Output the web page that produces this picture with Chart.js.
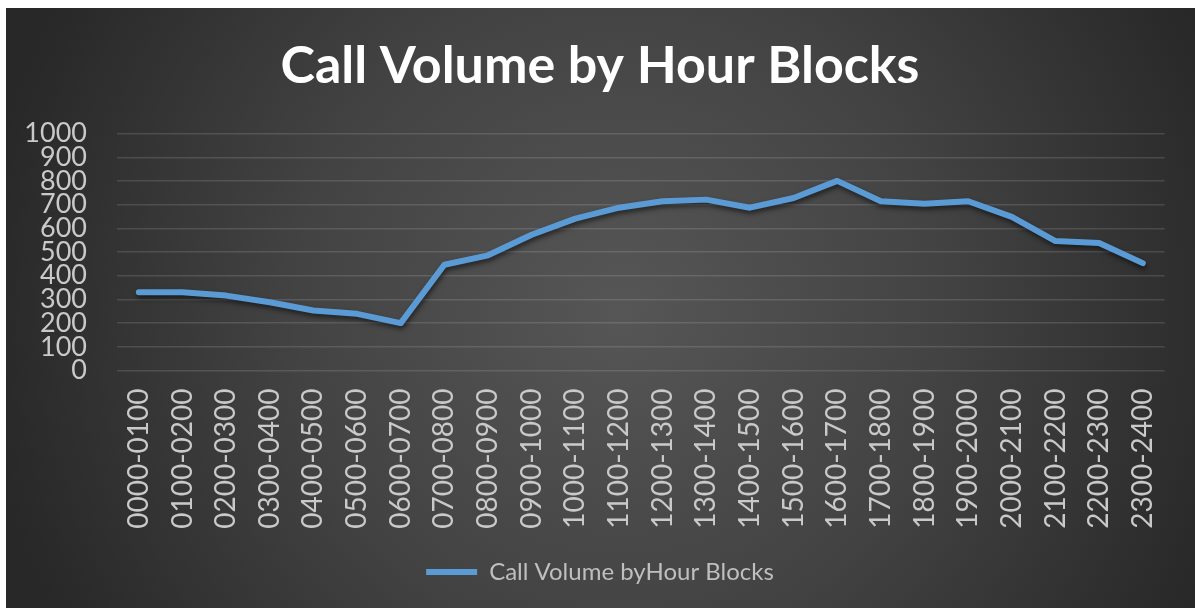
<!DOCTYPE html>
<html>
<head>
<meta charset="utf-8">
<script src="https://cdn.jsdelivr.net/npm/chart.js@4.4.1/dist/chart.umd.min.js"></script>
<style>
  html, body { margin: 0; padding: 0; background: #ffffff; }
  canvas { display: block; }
</style>
</head>
<body>
<canvas id="chart" width="1195" height="608"></canvas>
<script>
// ---- data ----
const categories = [
  "0000-0100","0100-0200","0200-0300","0300-0400","0400-0500","0500-0600",
  "0600-0700","0700-0800","0800-0900","0900-1000","1000-1100","1100-1200",
  "1200-1300","1300-1400","1400-1500","1500-1600","1600-1700","1700-1800",
  "1800-1900","1900-2000","2000-2100","2100-2200","2200-2300","2300-2400"
];
const callVolume = [
  330, 330, 316, 288, 253, 239,
  200, 446, 486, 573, 641, 687,
  714, 721, 687, 728, 800, 714,
  704, 714, 648, 546, 538, 453
];
const seriesName = "Call Volume byHour Blocks";
const chartTitle = "Call Volume by Hour Blocks";
const yMin = 0;
const yMax = 1000;
const yStep = 100;

// ---- plugins ----
const panelBackground = {
  id: 'panelBackground',
  beforeDraw(chart) {
    const ctx = chart.ctx;
    ctx.save();
    ctx.fillStyle = '#ffffff';
    ctx.fillRect(0, 0, chart.width, chart.height);
    const x0 = 6, y0 = 8, w = chart.width - 6, h = chart.height - 8;
    const g = ctx.createRadialGradient(620, 310, 0, 620, 310, 640);
    g.addColorStop(0, '#565656');
    g.addColorStop(0.5, '#434343');
    g.addColorStop(1, '#282828');
    ctx.fillStyle = g;
    ctx.fillRect(x0, y0, w, h);
    ctx.restore();
  }
};

// centre title and legend on the panel (6..1195) rather than the padded box
const recenter = {
  id: 'recenter',
  afterLayout(chart) {
    const shift = 10;
    if (chart.titleBlock) { chart.titleBlock.left += shift; chart.titleBlock.right += shift; }
    if (chart.legend) { chart.legend.left += shift; chart.legend.right += shift; }
  }
};

const lineShadow = {
  id: 'lineShadow',
  beforeDatasetDraw(chart) {
    const ctx = chart.ctx;
    ctx.save();
    ctx.shadowColor = 'rgba(0,0,0,0.55)';
    ctx.shadowBlur = 5;
    ctx.shadowOffsetX = 1;
    ctx.shadowOffsetY = 3;
  },
  afterDatasetDraw(chart) {
    chart.ctx.restore();
  }
};

const FONT = "Lato, 'Open Sans', sans-serif";

new Chart(document.getElementById('chart'), {
  type: 'line',
  data: {
    labels: categories,
    datasets: [{
      label: seriesName,
      data: callVolume,
      borderColor: '#5B9BD5',
      backgroundColor: '#5B9BD5',
      borderWidth: 6,
      borderCapStyle: 'round',
      borderJoinStyle: 'round',
      pointRadius: 0,
      pointHoverRadius: 0,
      pointStyle: 'line',
      tension: 0,
      fill: false
    }]
  },
  options: {
    responsive: false,
    animation: false,
    devicePixelRatio: 1,
    layout: { padding: { left: 15, right: 30, top: 8, bottom: 14 } },
    plugins: {
      title: {
        display: true,
        text: chartTitle,
        color: '#ffffff',
        font: { family: FONT, size: 52, weight: 'bold', lineHeight: 1.2 },
        padding: { top: 27.5, bottom: 35.6 }
      },
      legend: {
        display: true,
        position: 'bottom',
        labels: {
          color: '#bfbfbf',
          font: { family: FONT, size: 24 },
          usePointStyle: true,
          pointStyleWidth: 51,
          boxHeight: 6,
          padding: 10
        }
      },
      tooltip: { enabled: false }
    },
    scales: {
      x: {
        offset: true,
        grid: { display: false, drawTicks: false },
        border: { display: false },
        ticks: {
          color: '#c9c9c9',
          font: { family: FONT, size: 28 },
          autoSkip: false,
          maxRotation: 90,
          minRotation: 90,
          padding: 18
        },
        afterFit(scale) { scale.height = 179.5; }
      },
      y: {
        min: yMin,
        max: yMax,
        grid: { color: 'rgba(255,255,255,0.13)', lineWidth: 1.4, drawTicks: false },
        border: { display: false },
        ticks: {
          stepSize: yStep,
          autoSkip: false,
          color: '#c9c9c9',
          font: { family: FONT, size: 27, lineHeight: 1 },
          padding: 30,
          callback: (v) => String(v)
        },
        afterFit(scale) { scale.width = 102; }
      }
    }
  },
  plugins: [panelBackground, recenter, lineShadow]
});
</script>
</body>
</html>
